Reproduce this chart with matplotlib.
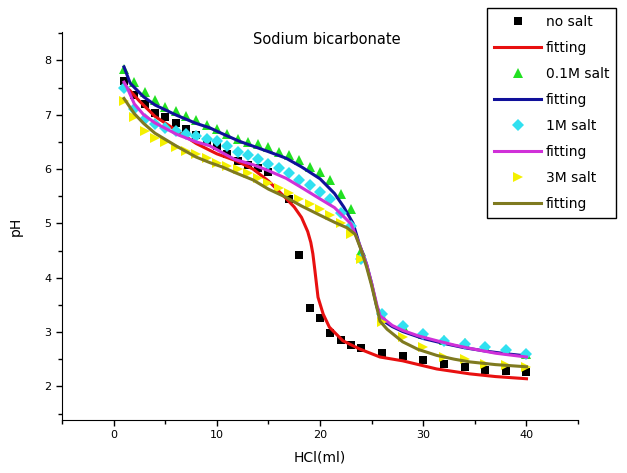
import matplotlib
matplotlib.use("Agg")
import matplotlib.pyplot as plt
from matplotlib.ticker import MultipleLocator

plt.rcParams['font.family'] = ['DejaVu Sans']

# no salt - data and fitting
ns_x = [1, 2, 3, 4, 5, 6, 7, 8, 9, 10, 11, 12, 13, 14, 15, 17, 18, 19, 20, 21, 22, 23, 24,
        26, 28, 30, 32, 34, 36, 38, 40]
ns_y = [7.62, 7.37, 7.19, 7.04, 6.95, 6.85, 6.74, 6.63, 6.52, 6.42, 6.27, 6.14, 6.08, 6.02, 5.94,
        5.44, 4.42, 3.45, 3.26, 2.98, 2.86, 2.76, 2.70, 2.61, 2.55, 2.48, 2.41, 2.36, 2.31, 2.29, 2.27]
ns_fx = [1, 1.6, 2.5, 4, 6, 8, 10, 11.9, 13.5, 15, 16.6, 17.5, 18.2, 18.8, 19.1, 19.3, 19.5, 19.8,
         20.3, 20.9, 22.2, 23.8, 25.8, 28, 31.3, 34.5, 37, 40]
ns_fy = [7.55, 7.44, 7.25, 6.97, 6.72, 6.47, 6.28, 6.15, 6.0, 5.78, 5.48, 5.3, 5.11, 4.85, 4.65,
         4.44, 4.13, 3.64, 3.33, 3.09, 2.84, 2.69, 2.54, 2.47, 2.32, 2.23, 2.18, 2.14]

# 0.1M salt
s01_x = list(range(1, 24)) + [24, 26, 28, 30, 32, 34, 36, 38, 40]
s01_y = [7.85, 7.6, 7.42, 7.27, 7.15, 7.06, 6.98, 6.9, 6.82, 6.73, 6.64, 6.56, 6.5, 6.46, 6.4,
         6.32, 6.25, 6.16, 6.04, 5.94, 5.8, 5.55, 5.27, 4.5, 3.3, 3.12, 2.97, 2.86, 2.79, 2.72,
         2.66, 2.6]
s01_fx = [1, 1.6, 2.9, 4, 6.1, 8, 9.3, 10.3, 12.2, 15, 16.7, 18.2, 20, 21.4, 22.3, 23.2, 23.8,
          24.5, 25, 25.5, 26.1, 27, 28, 30, 32, 34, 36, 38, 40]
s01_fy = [7.88, 7.58, 7.33, 7.18, 6.99, 6.84, 6.76, 6.67, 6.51, 6.32, 6.2, 6.04, 5.82, 5.55, 5.3,
          5.0, 4.62, 4.25, 3.89, 3.46, 3.21, 3.1, 3.01, 2.88, 2.79, 2.71, 2.65, 2.6, 2.56]

# 1M salt
s1_x = list(range(1, 24)) + [24, 26, 28, 30, 32, 34, 36, 38, 40]
s1_y = [7.5, 7.1, 6.93, 6.83, 6.76, 6.7, 6.65, 6.6, 6.55, 6.52, 6.43, 6.32, 6.25, 6.18, 6.1,
        6.02, 5.93, 5.8, 5.7, 5.58, 5.45, 5.2, 4.95, 4.35, 3.33, 3.12, 2.97, 2.84, 2.78, 2.72,
        2.66, 2.6]
s1_fx = [1, 1.3, 2, 2.9, 4, 6.1, 8, 9.3, 11.7, 13.5, 15, 16.7, 18.2, 20, 21.4, 23, 23.8, 24.5,
         25, 25.5, 25.8, 27, 28, 29.5, 31.3, 33, 34.5, 37, 40]
s1_fy = [7.6, 7.5, 7.2, 7.0, 6.85, 6.64, 6.5, 6.43, 6.18, 6.08, 5.97, 5.83, 5.66, 5.45, 5.29,
         4.99, 4.62, 4.25, 3.89, 3.5, 3.3, 3.12, 3.03, 2.93, 2.84, 2.76, 2.7, 2.61, 2.54]

# 3M salt
s3_x = list(range(1, 24)) + [24, 26, 28, 30, 32, 34, 36, 38, 40]
s3_y = [7.25, 6.95, 6.7, 6.58, 6.49, 6.4, 6.33, 6.27, 6.21, 6.12, 6.06, 6.0, 5.92, 5.84, 5.74,
        5.65, 5.56, 5.45, 5.36, 5.26, 5.15, 5.0, 4.8, 4.35, 3.18, 2.9, 2.72, 2.54, 2.5, 2.42,
        2.39, 2.36]
s3_fx = [1, 2, 2.9, 4, 6.1, 8, 9.3, 10.5, 11.7, 13.5, 15, 16.7, 18.2, 20, 21.4, 22.6, 23.4, 24,
         24.5, 25, 25.5, 25.8, 26.5, 28, 29.5, 31.3, 33, 34.5, 37, 40]
s3_fy = [7.3, 7.02, 6.84, 6.66, 6.42, 6.22, 6.12, 6.04, 5.94, 5.8, 5.63, 5.48, 5.32, 5.15, 5.02,
         4.92, 4.8, 4.5, 4.2, 3.85, 3.45, 3.2, 3.05, 2.82, 2.68, 2.57, 2.5, 2.45, 2.4, 2.36]

fig = plt.figure(figsize=(6.27, 4.73), dpi=100)
ax = fig.add_axes([0.099, 0.112, 0.823, 0.82])

ax.plot(ns_x, ns_y, 's', color='black', ms=5.5, mew=0, label='no salt')
ax.plot(ns_fx, ns_fy, '-', color='#e81010', lw=2.2, label='fitting')
ax.plot(s01_x, s01_y, '^', color='#22e022', ms=7, mew=0, label='0.1M salt')
ax.plot(s01_fx, s01_fy, '-', color='#10109a', lw=2.2, label='fitting')
ax.plot(s1_x, s1_y, 'D', color='#30e0f0', ms=6, mew=0, label='1M salt')
ax.plot(s1_fx, s1_fy, '-', color='#d030d8', lw=2.2, label='fitting')
ax.plot(s3_x, s3_y, '>', color='#f4f000', ms=7, mew=0, label='3M salt')
ax.plot(s3_fx, s3_fy, '-', color='#7f7a20', lw=2.2, label='fitting')

ax.set_xlim(-5, 45)
ax.set_ylim(1.38, 8.52)
ax.xaxis.set_major_locator(MultipleLocator(10))
ax.xaxis.set_minor_locator(MultipleLocator(5))
ax.yaxis.set_major_locator(MultipleLocator(1))
ax.yaxis.set_minor_locator(MultipleLocator(0.5))
ax.tick_params(which='both', direction='out', width=1, labelsize=8)
ax.tick_params(which='major', length=4)
ax.tick_params(which='minor', length=3)
ax.spines['top'].set_visible(False)
ax.spines['right'].set_visible(False)
ax.set_xlabel('HCl(ml)', fontsize=10, labelpad=7)
ax.set_ylabel('pH', fontsize=10, labelpad=16)
fig.text(0.522, 0.9175, 'Sodium bicarbonate', ha='center', va='center', fontsize=10.5)

leg = ax.legend(loc='upper left', bbox_to_anchor=(0.777, 0.983), bbox_transform=fig.transFigure,
                fontsize=10, frameon=True, fancybox=False, handlelength=3.4, labelspacing=0.86,
                handletextpad=0.3, borderpad=0.5, borderaxespad=0)
leg.get_frame().set_edgecolor('black')
leg.get_frame().set_linewidth(1)
leg.get_frame().set_alpha(1)

fig.savefig('out.png', dpi=100)
